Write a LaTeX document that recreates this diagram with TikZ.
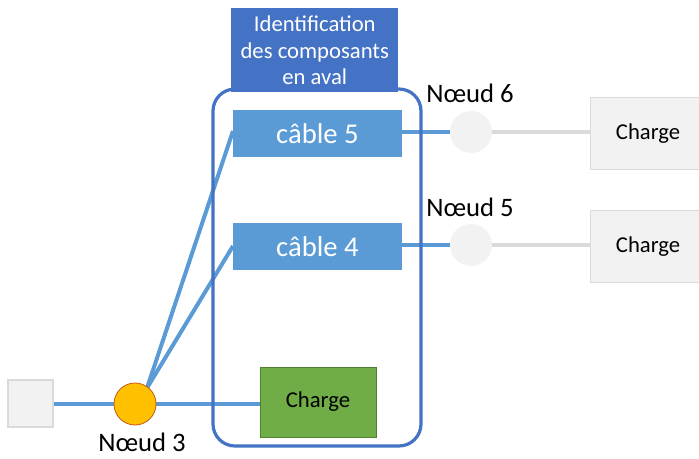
\documentclass[tikz,border=0pt]{standalone}
\usepackage{fontspec}
\setmainfont{Carlito}
\usetikzlibrary{backgrounds}
\definecolor{dkblue}{HTML}{4472C4}
\definecolor{ltblue}{HTML}{5B9BD5}
\definecolor{ggreen}{HTML}{70AD47}
\definecolor{ggreenb}{HTML}{507E32}
\definecolor{lgray}{HTML}{F2F2F2}
\definecolor{lgrayb}{HTML}{DADADA}
\definecolor{orng}{HTML}{FFC000}
\definecolor{orngb}{HTML}{C55A11}
\begin{document}
\begin{tikzpicture}[x=0.75pt,y=-0.75pt,
  cable/.style={fill=ltblue,draw=none,text=white,font=\fontsize{21.5}{24}\selectfont,minimum width=169*0.75pt,minimum height=47*0.75pt,inner sep=0},
  grayload/.style={fill=lgray,draw=lgrayb,line width=0.8pt,font=\fontsize{17}{20}\selectfont,minimum width=115*0.75pt,minimum height=72*0.75pt,inner sep=0,anchor=west},
  gnode/.style={circle,fill=lgray,draw=none,minimum size=42*0.75pt,inner sep=0},
  bl/.style={ltblue,line width=3pt},
  gl/.style={lgrayb,line width=3.5pt},
  lbl/.style={font=\fontsize{20}{23}\selectfont}]
\useasboundingbox (0,0) rectangle (699,459);
% title box
\node[fill=dkblue,text=white,minimum width=167*0.75pt,minimum height=84*0.75pt,inner sep=0,align=center,font=\fontsize{17}{20}\selectfont,anchor=north west] (title) at (231,8) {Identification\\des composants\\en aval};
\node[cable] (c5) at (317.5,133.5) {câble 5};
\node[cable] (c4) at (317.5,246.5) {câble 4};
\node[gnode] (n6) at (471,132) {};
\node[gnode] (n5) at (471,245) {};
\node[grayload] (l6) at (590,133.5) {Charge};
\node[grayload] (l5) at (590,246.5) {Charge};
\node[lbl] (t6) at (470,93) {Nœud 6};
\node[lbl] (t5) at (470,207) {Nœud 5};
\node[fill=ggreen,draw=ggreenb,line width=0.6pt,minimum width=116*0.75pt,minimum height=70*0.75pt,inner sep=0,font=\fontsize{17}{20}\selectfont] (gl) at (318,402) {Charge};
\node[fill=lgray,draw=lgrayb,line width=0.8pt,minimum width=45*0.75pt,minimum height=47*0.75pt,inner sep=0] (src) at (30.5,403.5) {};
\node[circle,fill=orng,draw=orngb,line width=0.6pt,minimum size=42*0.75pt,inner sep=0] (n3) at (135,404) {};
\node[lbl] (t3) at (142,442) {Nœud 3};
\coordinate (fork) at (147,388);
\coordinate (c5in) at (233,131);
\coordinate (c4in) at (233,246);
\begin{scope}[on background layer]
\draw[bl] (src.east |- n3) -- (n3.west);
\draw[bl] (n3.east) -- (gl.west |- n3);
\draw[bl] (fork) -- (c5in);
\draw[bl] (fork) -- (c4in);
\draw[bl] (c5.east |- n6) -- (n6.west);
\draw[bl] (c4.east |- n5) -- (n5.west);
\draw[gl] (n6.east) -- (l6.west |- n6);
\draw[gl] (n5.east) -- (l5.west |- n5);
\end{scope}
% rounded frame
\draw[dkblue,line width=2.4pt,rounded corners=22*0.75pt] (213,89) rectangle (421,446);
\end{tikzpicture}
\end{document}
